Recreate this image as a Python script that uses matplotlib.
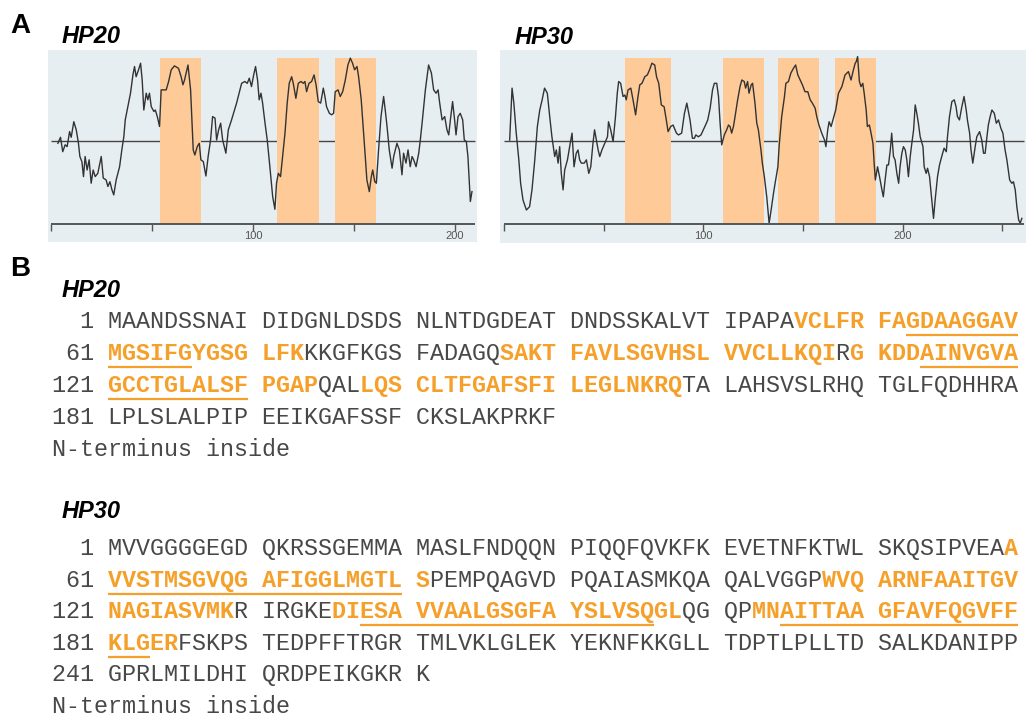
import numpy as np
import matplotlib.pyplot as plt

# ---- hydropathy profiles (residue, score) ----
hp20_pos = [3.3, 4.6, 5.7, 6.9, 7.9, 9.1, 9.9, 11.2, 12.4, 13.5, 14.2, 15.2, 16.0, 16.8, 17.8,
            18.8, 19.8, 20.8, 21.8, 23.1, 24.8, 25.8, 27.2, 28.1, 29.1, 30.1, 31.0, 32.2, 33.9,
            35.0, 36.0, 36.7, 38.0, 39.3, 40.5, 41.3, 42.1, 43.3, 44.3, 45.1, 45.9, 47.1, 47.9,
            48.7, 49.6, 50.9, 51.6, 52.6, 53.7, 54.5, 57.0, 58.2, 59.5, 61.1, 63.1, 64.4, 65.3,
            66.1, 67.8, 69.1,
            70.4, 71.2, 72.4, 73.4, 74.2, 75.4, 76.7, 77.8, 79.0, 80.0, 81.2, 82.0, 83.0, 84.0,
            85.0, 86.6, 87.8, 89.4, 91.9, 94.4, 96.0, 97.2, 98.2, 99.3, 100.2, 101.3, 102.3,
            103.1, 104.0, 104.8, 106.0, 107.1, 108.4, 109.8, 110.9, 111.7, 112.6, 113.7, 114.7,
            115.9, 117.0, 118.0, 119.2, 120.0, 121.3, 122.5, 123.8, 125.0, 125.8, 126.6, 127.8,
            129.1, 130.3, 131.3, 132.4, 133.6, 134.9, 135.7, 136.5, 137.9, 139.0,
            140.0, 140.8, 142.2, 143.3, 144.5, 145.8, 147.1, 148.3, 149.4, 150.4, 151.6, 152.4,
            153.7, 154.9, 155.7, 156.5, 157.7, 158.7, 159.4, 160.4, 161.2, 162.3, 163.5, 164.8,
            165.6, 166.5, 167.6, 169.0, 169.8, 171.4, 172.6, 173.9, 174.7, 175.9, 176.9, 178.0,
            178.9, 179.7, 180.9, 182.2, 183.0, 184.2, 185.5, 187.1, 188.5, 189.6, 190.8, 191.8,
            192.6, 193.8, 195.1, 196.2, 197.1, 197.9, 199.0, 200.0, 200.7, 201.7, 202.8, 204.0,
            204.8, 205.8, 206.6, 207.8, 208.6]
hp20_score = [-0.08, 0.12, -0.36, -0.13, -0.19, 0.31, 0.12, 0.64, 0.37, -0.08, -0.52, -0.69, -1.19,
              -0.52, -0.97, -0.63, -1.41, -0.97, -1.19, -1.08, -0.52, -1.24, -1.30, -1.52, -1.36,
              -1.63, -1.80, -1.30, -0.86, -0.30, 0.14, 0.70, 1.14, 1.59, 2.20, 2.48, 2.14, 2.37,
              2.59, 2.03, 1.03, 1.59, 1.37, 1.59, 1.14, 0.98, 1.03, 0.81, 0.48, 1.70, 1.70, 1.98,
              2.37, 2.50, 2.42, 2.14, 1.87, 2.03, 2.53, 1.70,
              -0.30, -0.47, -0.19, -0.08, -0.63, -0.69, -1.17, -0.52, 0.03, 0.81, 0.76, 0.03,
              0.37, 0.59, 0.03, -0.41, 0.37, 0.70, 1.26, 1.92, 1.98, 1.92, 2.09, 1.81, 2.14,
              2.48, 2.03, 1.37, 1.59, 1.26, 0.59, 0.03, -0.86, -1.86, -2.28, -1.41, -1.08, -1.19,
              -0.52, 0.26, 1.26, 1.92, 2.14, 1.92, 1.42, 1.92, 1.98, 1.92, 1.98, 1.64, 1.92,
              1.98, 2.20, 1.87, 1.31, 1.26, 1.76, 1.48, 1.14, 0.92, 0.87,
              0.92, 1.64, 1.70, 1.48, 1.64, 2.03, 2.53, 2.76, 2.59, 2.37, 2.48, 2.14, 1.37, 0.26,
              -0.52, -1.30, -1.69, -1.19, -0.97, -1.36, -1.41, -0.30, 0.81, 1.48, 1.03, 0.48,
              -0.30, -0.91, -0.52, -0.08, -0.30, -1.13, -0.41, -0.74, -0.30, -0.86, -0.52, -0.63,
              -0.86, -0.41, 0.03, 0.81, 1.70, 2.53, 2.26, 1.70, 1.59, 1.70, 1.26, 0.70, 0.81,
              0.37, 0.20, 0.70, 1.31, 0.70, 0.20, 0.81, 0.92, 0.70, 0.03, -0.02, -0.52, -2.02,
              -1.69]

hp30_pos = [2.8, 4.0, 4.9, 6.1, 7.4, 8.3, 9.5, 11.2, 12.8, 14.0, 15.4, 16.7, 17.9, 19.1, 20.3,
            21.7, 22.9, 24.0, 25.4, 26.2, 27.1, 27.9, 28.7, 29.6, 30.4, 31.8, 32.9, 34.1, 35.1,
            36.2, 37.1, 37.9, 38.8, 40.2, 41.3, 42.5, 43.5, 44.6, 45.4, 46.3, 47.2, 48.0, 49.1,
            50.5, 51.9, 52.4, 53.5, 54.7, 55.9, 56.8, 57.5, 58.5, 59.7, 60.6, 61.3, 62.2, 63.6,
            64.7, 66.0, 67.2, 68.1, 69.2, 70.6, 71.9, 73.0, 74.2, 75.6, 76.5, 77.6, 78.9, 80.3,
            81.4, 82.3, 83.6, 84.8, 86.5,
            87.5, 89.1, 90.5, 91.7, 92.5, 93.3, 94.5, 95.5, 96.2, 97.5, 98.8, 100.0, 101.1,
            102.2, 103.4, 104.6, 105.5, 106.7, 107.6, 108.4, 109.2, 110.5, 111.7, 112.6, 113.4,
            114.2, 115.1, 115.9, 117.2, 118.4, 119.3, 120.5, 121.2, 122.2, 122.9, 124.0, 124.7,
            125.9, 126.8, 127.6, 128.9, 129.6, 130.6, 131.8, 133.0, 134.0, 135.2, 136.0, 137.4,
            138.0, 139.3, 140.7, 141.4, 142.7, 143.9, 145.2, 146.3, 147.4, 148.6, 149.7, 151.0,
            152.4, 153.6, 154.7, 156.1, 156.9, 158.0, 159.4, 160.8, 161.5, 162.4, 163.1, 164.1,
            165.3, 166.4, 167.8, 169.5, 171.1, 172.8, 174.1, 175.3, 176.2,
            176.7, 177.4, 178.3, 179.1, 180.0, 180.7, 181.7, 182.3, 183.3, 184.0, 185.1, 185.7,
            186.3, 187.4, 188.4, 189.6, 190.3, 191.2, 192.1, 192.9, 193.8, 194.5, 195.4, 196.2,
            197.1, 198.0, 198.7, 199.6, 200.4, 201.3, 202.1, 202.9, 203.8, 204.6, 205.5, 206.3,
            207.1, 207.9, 208.8, 210.2, 210.8, 211.8, 212.5, 213.5, 214.6, 215.5, 216.3, 217.5,
            218.5, 219.6, 220.8, 221.9, 222.5, 223.5, 224.7, 225.9, 226.8, 227.5, 228.5, 229.7,
            230.8, 231.9, 232.5, 233.6, 234.3, 235.2, 236.4, 237.2, 238.6, 239.7, 240.6, 241.4,
            242.3, 243.0, 243.9, 244.8, 246.0, 247.0, 248.1, 249.3, 250.3, 251.4, 252.3, 253.7,
            254.8, 255.6, 256.5, 257.3, 258.2, 259.0, 259.8]
hp30_score = [0.03, 1.76, 1.26, 0.26, -0.63, -1.41, -1.97, -2.30, -2.19, -1.63, -0.63, 0.48, 1.03,
              1.37, 1.76, 1.59, 0.81, 0.14, -0.52, -0.30, -0.74, -0.19, -1.08, -1.63, -0.97,
              -0.63, -0.19, 0.26, -0.86, -0.41, -0.30, -0.63, -0.74, -0.74, -0.63, -1.08, -0.86,
              -0.08, 0.37, 0.03, -0.30, -0.52, -0.30, -0.08, 0.14, 0.64, 0.37, -0.02, 0.81, 1.59,
              1.98, 1.92, 1.48, 1.53, 1.37, 1.70, 1.76, 1.37, 0.87, 1.48, 1.87, 1.92, 2.14, 2.20,
              2.37, 2.59, 2.53, 2.14, 1.92, 1.20, 1.14, 0.70, 0.31, 0.48, 0.53, 0.26,
              0.20, 0.26, 0.92, 1.26, 0.98, 0.70, 0.09, 0.09, 0.20, 0.14, 0.20, 0.37, 0.53, 0.70,
              1.09, 1.70, 1.92, 1.92, 1.48, 0.59, -0.13, 0.20, 0.37, 0.53, 0.48, 0.26, 0.48, 0.81,
              1.37, 1.81, 2.03, 1.98, 1.76, 1.98, 1.59, 1.87, 1.92, 1.26, 0.59, 0.37, -0.30,
              -0.74, -1.19, -1.86, -2.74, -2.30, -1.74, -1.41, -0.86, -0.19, 0.81, 1.48, 1.92,
              1.98, 2.26, 2.42, 2.53, 2.20, 2.03, 1.87, 1.64, 1.64, 1.37, 1.26, 1.09, 0.81, 0.53,
              0.26, 0.03, -0.19, 0.37, 0.64, 0.48, 0.76, 1.03, 1.59, 1.81, 2.20, 2.31, 2.03,
              2.37, 2.59,
              2.64, 2.81, 1.98, 1.81, 1.92, 1.59, 1.03, 0.48, 0.53, 0.31, -0.08, -0.74, -1.30,
              -0.86, -1.19, -1.63, -1.86, -1.30, -0.80, -0.80, -0.30, 0.26, -0.52, -0.63, -1.08,
              -1.41, -0.86, -0.41, -0.19, -0.30, -0.63, -1.19, -0.52, -0.08, 0.37, 1.20, 0.92,
              0.59, 0.14, -0.19, -0.86, -1.08, -0.91, -1.19, -1.97, -2.58, -1.97, -1.19, -0.80,
              -0.52, -0.24, -0.36, 0.14, 0.81, 1.31, 1.37, 1.14, 0.81, 0.70, 1.14, 1.48, 1.03,
              0.70, 0.26, -0.30, -0.74, -0.19, 0.14, 0.31, 0.03, -0.41, -0.41, 0.14, 0.53, 0.81,
              1.03, 0.92, 0.59, 0.70, 0.42, 0.26, -0.30, -0.63, -1.30, -1.41, -1.36, -1.63, -2.19,
              -2.63, -2.74, -2.58]

# predicted TM windows shaded in the plots
hp20_bands = [(53.7, 74.2), (111.8, 132.6), (140.5, 161.0)]
hp30_bands = [(60.7, 83.6), (110.0, 130.6), (137.6, 158.1), (166.2, 186.5)]

# ---- sequences ----
hp20_seq = ("MAANDSSNAIDIDGNLDSDSNLNTDGDEATDNDSSKALVTIPAPAVCLFRFAGDAAGGAV"
            "MGSIFGYGSGLFKKKGFKGSFADAGQSAKTFAVLSGVHSLVVCLLKQIRGKDDAINVGVA"
            "GCCTGLALSFPGAPQALLQSCLTFGAFSFILEGLNKRQTALAHSVSLRHQTGLFQDHHRA"
            "LPLSLALPIPEEIKGAFSSFCKSLAKPRKF")
hp30_seq = ("MVVGGGGEGDQKRSSGEMMAMASLFNDQQNPIQQFQVKFKEVETNFKTWLSKQSIPVEAA"
            "VVSTMSGVQGAFIGGLMGTLSPEMPQAGVDPQAIASMKQAQALVGGPWVQARNFAAITGV"
            "NAGIASVMKRIRGKEDIESAVVAALGSGFAYSLVSQGLQGQPMNAITTAAGFAVFQGVFF"
            "KLGERFSKPSTEDPFFTRGRTMLVKLGLEKYEKNFKKGLLTDPTLPLLTDSALKDANIPP"
            "GPRLMILDHIQRDPEIKGKRK")
hp20_orange = [(46, 73), (87, 108), (110, 134), (138, 158)]
hp30_orange = [(60, 81), (108, 129), (136, 158), (163, 185)]
hp20_under = [(53, 66), (114, 130)]
hp30_under = [(61, 80), (138, 156), (165, 183)]

BG = "#e7eef1"
BAND = "#fdca98"
ORANGE = "#f4a02a"
DARK = "#333333"
TEXT = "#484848"

W, H = 1026, 722
fig = plt.figure(figsize=(W / 100, H / 100), dpi=100)

AXIS_Y = -2.77


def hydropathy(rect, pos, score, bands, length, xlim, ylim):
    ax = fig.add_axes(rect)
    ax.set_facecolor(BG)
    ax.set_xlim(*xlim)
    ax.set_ylim(*ylim)
    for s in ax.spines.values():
        s.set_visible(False)
    ax.set_xticks([])
    ax.set_yticks([])
    ax.hlines(0, 0, length, color="#454545", lw=1.0, zorder=1)
    for a, b in bands:
        ax.fill_between([a, b], AXIS_Y, 2.78, color=BAND, lw=0, zorder=2)
    ax.plot(pos, score, color=DARK, lw=1.0, zorder=3)
    ax.hlines(AXIS_Y, 0, length, color="#555555", lw=1.4, zorder=4)
    ticks = np.arange(0, length + 1, 50)
    ax.vlines(ticks, AXIS_Y - 0.22, AXIS_Y, color="#555555", lw=1.0, zorder=4)
    for t in ticks:
        if t > 0 and t % 100 == 0:
            ax.text(t, -3.17, str(t), ha="center", va="center", fontsize=8,
                    color="#555555", family="Liberation Sans")
    return ax


hydropathy([48 / W, 1 - 242 / H, 429 / W, 192 / H], hp20_pos, hp20_score, hp20_bands,
           210, (-1.6, 211.1), (-3.37, 3.03))
hydropathy([499.5 / W, 1 - 243 / H, 526.5 / W, 193 / H], hp30_pos, hp30_score, hp30_bands,
           261, (-2.3, 261.9), (-3.4, 3.03))

# ---- text overlay in pixel units ----
tx = fig.add_axes([0, 0, 1, 1])
tx.set_xlim(0, W)
tx.set_ylim(H, 0)
tx.axis("off")

sans = "Liberation Sans"
tx.text(10, 33, "A", fontsize=20, weight="bold", family=sans, va="baseline")
tx.text(62, 43, "HP20", fontsize=17, weight="bold", style="italic", family=sans, va="baseline")
tx.text(515, 44, "HP30", fontsize=17, weight="bold", style="italic", family=sans, va="baseline")
tx.text(10, 276, "B", fontsize=20, weight="bold", family=sans, va="baseline")
tx.text(62, 297, "HP20", fontsize=17, weight="bold", style="italic", family=sans, va="baseline")
tx.text(62, 518, "HP30", fontsize=17, weight="bold", style="italic", family=sans, va="baseline")

X0 = 52.0
CW = 14.0
FS = CW / 0.6 * 72 / 100
mono = "Liberation Mono"


def col_of(i):
    k = (i - 1) % 60
    return 4 + (k // 10) * 11 + k % 10


def in_ranges(i, ranges):
    return any(a <= i <= b for a, b in ranges)


def draw_sequence(seq, orange, under, y_first, step):
    y = y_first
    for start in range(0, len(seq), 60):
        chunk = seq[start:start + 60]
        plain = list(f"{start + 1:>3} ")
        hot = [" "] * 4
        for k, ch in enumerate(chunk):
            if k and k % 10 == 0:
                plain.append(" ")
                hot.append(" ")
            i = start + k + 1
            if in_ranges(i, orange):
                plain.append(" ")
                hot.append(ch)
            else:
                plain.append(ch)
                hot.append(" ")
        tx.text(X0, y + 7, "".join(plain), fontsize=FS, family=mono, color=TEXT,
                va="baseline", ha="left")
        tx.text(X0, y + 7, "".join(hot), fontsize=FS, family=mono, color=ORANGE,
                weight="bold", va="baseline", ha="left")
        last = start + len(chunk)
        for a, b in under:
            lo, hi = max(a, start + 1), min(b, last)
            if lo <= hi:
                tx.plot([X0 + col_of(lo) * CW, X0 + (col_of(hi) + 1) * CW], [y + 14, y + 14],
                        color=ORANGE, lw=1.6, solid_capstyle="butt")
        y += step
    tx.text(X0, y + 7, "N-terminus inside", fontsize=FS, family=mono, color=TEXT,
            va="baseline", ha="left")


draw_sequence(hp20_seq, hp20_orange, hp20_under, 321, 32)
draw_sequence(hp30_seq, hp30_orange, hp30_under, 548, 31.6)

fig.savefig("out.png", dpi=100)
